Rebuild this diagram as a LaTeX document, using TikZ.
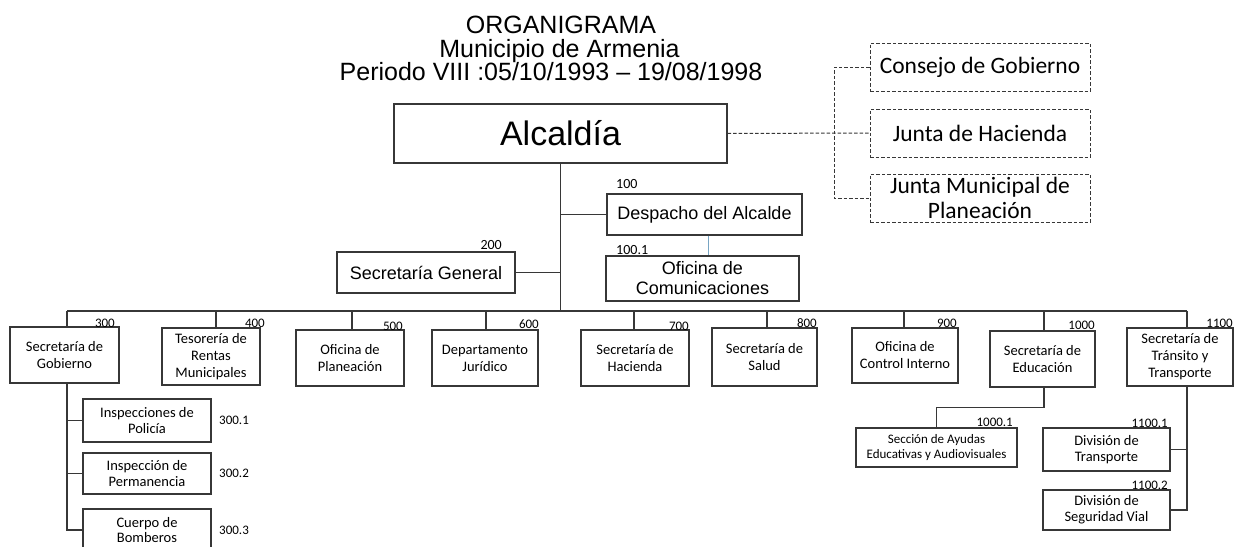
\documentclass[tikz,border=0pt]{standalone}
\usepackage{fontspec}
\setmainfont{Liberation Sans}
\newfontfamily\carl{Carlito}
\definecolor{linec}{RGB}{55,55,55}
\definecolor{bluec}{RGB}{120,165,195}
\newcommand\titlef{\fontsize{25}{29}\selectfont}
\newcommand\alcf{\fontsize{34}{38}\selectfont}
\newcommand\topf{\fontsize{18}{20}\selectfont}
\newcommand\dashf{\carl\fontsize{23.5}{25}\selectfont}
\newcommand\botf{\carl\fontsize{14.5}{17}\selectfont}
\newcommand\subf{\carl\fontsize{14.5}{16}\selectfont}
\newcommand\bombf{\carl\fontsize{14.5}{15}\selectfont}
\newcommand\seccf{\carl\fontsize{13}{15}\selectfont}
\newcommand\numtf{\carl\fontsize{14}{16}\selectfont}
\newcommand\numbf{\carl\fontsize{13}{15}\selectfont}
\tikzset{
  box/.style={draw=linec, line width=1.1pt, inner sep=0pt, align=center, fill=white},
  dbox/.style={draw=linec, line width=1pt, dash pattern=on 3.5pt off 2pt, inner sep=0pt, align=center, font=\dashf},
  conn/.style={draw=linec, line width=1.1pt},
  dconn/.style={draw=linec, line width=1pt, dash pattern=on 3.5pt off 2pt},
  num/.style={inner sep=0pt, font=\numbf},
  numt/.style={inner sep=0pt, font=\numtf},
}
\begin{document}
\begin{tikzpicture}[x=1pt,y=-1pt]
\useasboundingbox (0,0) rectangle (1236,546);
\clip (0,0) rectangle (1236,546);

% title
\node[anchor=base, font=\titlef, inner sep=0pt] (t1) at (561,33) {ORGANIGRAMA};
\node[anchor=base, font=\titlef, inner sep=0pt] (t2) at (559.5,57) {Municipio de Armenia};
\node[anchor=base, font=\titlef, inner sep=0pt] (t3) at (551,80) {Periodo VIII :05/10/1993 – 19/08/1998};

% top nodes
\node[box, font=\alcf, minimum width=333, minimum height=59] (alc) at (560.5,133.5) {Alcaldía};
\node[box, font=\topf, minimum width=195, minimum height=41] (desp) at (704.5,214.5) {Despacho del Alcalde};
\node[box, font=\topf, minimum width=193, minimum height=45] (ofc) at (702.5,278.5) {Oficina de\\Comunicaciones};
\node[box, font=\topf, minimum width=178, minimum height=41] (sgen) at (426,272.5) {Secretaría General};

\node[numt, anchor=base west] (n100) at (616,188) {100};
\node[numt, anchor=base west] (n1001) at (616,254) {100.1};
\node[numt, anchor=base east] (n200) at (502,249) {200};

% dashed boxes
\node[dbox, minimum width=220, minimum height=48] (cons) at (980,67) {Consejo de Gobierno};
\node[dbox, minimum width=220, minimum height=48] (jhac) at (980,133) {Junta de Hacienda};
\node[dbox, minimum width=220, minimum height=48] (jmun) at (980,198) {Junta Municipal de\\Planeación};

\coordinate (dv) at (834,0);
\draw[dconn] (alc.east) -- (jhac.west);
\draw[dconn] (cons.west) -- (cons.west -| dv) -- (jmun.west -| dv) -- (jmun.west);

% bottom row boxes
\node[box, font=\botf, minimum width=109, minimum height=56] (sgob) at (64.5,355) {Secretaría de\\Gobierno};
\node[box, font=\botf, minimum width=98, minimum height=57] (tes) at (211,356.5) {Tesorería de\\Rentas\\Municipales};
\node[box, font=\botf, minimum width=108, minimum height=56] (plan) at (350,358) {Oficina de\\Planeación};
\node[box, font=\botf, minimum width=106, minimum height=56] (jur) at (485,358) {Departamento\\Jurídico};
\node[box, font=\botf, minimum width=108, minimum height=56] (hac) at (635,358) {Secretaría de\\Hacienda};
\node[box, font=\botf, minimum width=105, minimum height=58] (sal) at (764.5,357) {Secretaría de\\Salud};
\node[box, font=\botf, minimum width=106, minimum height=55] (ctrl) at (905,355.5) {Oficina de\\Control Interno};
\node[box, font=\botf, minimum width=105, minimum height=56] (edu) at (1042.5,359) {Secretaría de\\Educación};
\node[box, font=\botf, minimum width=106, minimum height=58] (tra) at (1180,357) {Secretaría de\\Tránsito y\\Transporte};

\node[num, anchor=base east] (n300) at (115,327) {300};
\node[num, anchor=base east] (n400) at (265,327) {400};
\node[num, anchor=base east] (n500) at (403,330) {500};
\node[num, anchor=base east] (n600) at (539,328) {600};
\node[num, anchor=base east] (n700) at (689,330) {700};
\node[num, anchor=base east] (n800) at (817,327) {800};
\node[num, anchor=base east] (n900) at (957,327) {900};
\node[num, anchor=base east] (n1000) at (1095,329) {1000};
\node[num, anchor=base east] (n1100) at (1233,327) {1100};

% sub boxes
\node[box, font=\subf, minimum width=128, minimum height=43] (pol) at (147,420.5) {Inspecciones de\\Policía};
\node[box, font=\subf, minimum width=128, minimum height=41] (perm) at (147,473.5) {Inspección de\\Permanencia};
\node[box, font=\bombf, minimum width=128, minimum height=42] (bomb) at (147,530) {Cuerpo de\\Bomberos};
\node[box, font=\seccf, minimum width=161, minimum height=39] (secc) at (936.5,447.5) {Sección de Ayudas\\Educativas y Audiovisuales};
\node[box, font=\subf, minimum width=127, minimum height=43] (dtra) at (1106.5,449.5) {División de\\Transporte};
\node[box, font=\subf, minimum width=127, minimum height=40] (dseg) at (1106.5,510) {División de\\Seguridad Vial};

\node[num, anchor=west] (n3001) at (219,420) {300.1};
\node[num, anchor=west] (n3002) at (219,473) {300.2};
\node[num, anchor=west] (n3003) at (219,530) {300.3};
\node[num, anchor=base east] (n10001) at (1013,426) {1000.1};
\node[num, anchor=base east] (n11001) at (1168,427) {1100.1};
\node[num, anchor=base east] (n11002) at (1168,489) {1100.2};

% connectors
\coordinate (busL) at (67,311);
\coordinate (busR) at (1187,311);
\draw[conn] (busL) -- (busR);
\draw[conn] (alc.south) -- (alc.south |- busL);
\draw[conn] (desp.west) -- (desp.west -| alc.south);
\draw[conn] (sgen.east) -- (sgen.east -| alc.south);
\draw[draw=bluec, line width=1pt] ([xshift=3.5pt]desp.south) -- ([xshift=3.5pt]desp.south |- ofc.north);

\draw[conn] ([xshift=2.5pt]sgob.north) -- ([xshift=2.5pt]sgob.north |- busL);
\draw[conn] ([xshift=5pt]tes.north) -- ([xshift=5pt]tes.north |- busL);
\draw[conn] ([xshift=2pt]plan.north) -- ([xshift=2pt]plan.north |- busL);
\draw[conn] ([xshift=1pt]jur.north) -- ([xshift=1pt]jur.north |- busL);
\draw[conn] ([xshift=-1pt]hac.north) -- ([xshift=-1pt]hac.north |- busL);
\draw[conn] ([xshift=2.5pt]sal.north) -- ([xshift=2.5pt]sal.north |- busL);
\draw[conn] ([xshift=-1pt]ctrl.north) -- ([xshift=-1pt]ctrl.north |- busL);
\draw[conn] ([xshift=1.5pt]edu.north) -- ([xshift=1.5pt]edu.north |- busL);
\draw[conn] ([xshift=7pt]tra.north) -- ([xshift=7pt]tra.north |- busL);

\coordinate (gx) at ([xshift=2.5pt]sgob.south);
\draw[conn] (gx) |- (bomb.west);
\draw[conn] (pol.west) -- (pol.west -| gx);
\draw[conn] (perm.west) -- (perm.west -| gx);

\draw[conn] ([xshift=1.5pt]edu.south) -- ++(0,20) -| (secc.north);

\coordinate (tx) at ([xshift=7pt]tra.south);
\draw[conn] (tx) |- (dseg.east);
\draw[conn] (dtra.east) -- (dtra.east -| tx);
\end{tikzpicture}
\end{document}
